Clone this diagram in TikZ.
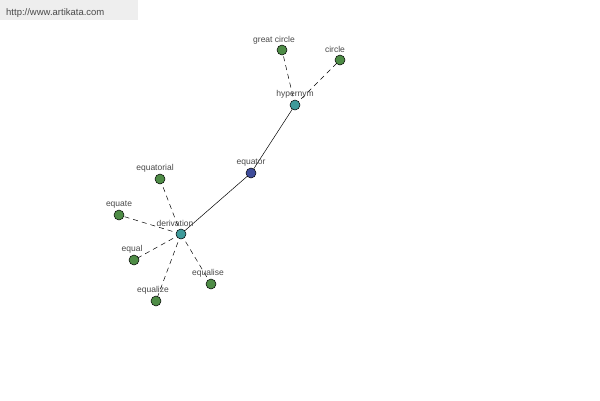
\documentclass[tikz,border=0pt]{standalone}
\usepackage{fontspec}
\setmainfont{Liberation Sans}
\definecolor{leaf}{HTML}{4E8C46}
\definecolor{mid}{HTML}{3E9A9A}
\definecolor{core}{HTML}{3F4C9A}
\definecolor{txt}{HTML}{4A4A4A}
\definecolor{hdr}{HTML}{EEEEEE}
\begin{document}
\begin{tikzpicture}[x=1pt,y=-1pt,
  dot/.style={circle,draw=black,line width=0.5pt,minimum size=10pt,inner sep=0pt},
  lf/.style={dot,fill=leaf},
  md/.style={dot,fill=mid},
  cr/.style={dot,fill=core},
  lbl/.style={font=\fontsize{8.5}{9}\selectfont,text=txt,anchor=base,inner sep=0pt},
  dsh/.style={draw=black,line width=0.5pt,dash pattern=on 5pt off 4pt},
  sld/.style={draw=black,line width=0.5pt}]
\useasboundingbox (0,0) rectangle (600,400);
\fill[white] (0,0) rectangle (600,400);
\node[fill=hdr,anchor=north west,minimum width=138pt,minimum height=20pt,inner sep=0pt] (hdr) at (0,0) {};
\node[font=\fontsize{9.5}{11}\selectfont,text=txt,anchor=base west,inner sep=0pt] (url) at (6,15) {http://www.artikata.com};
% coordinates
\coordinate (pEq) at (251,173);
\coordinate (pHy) at (295,105);
\coordinate (pGc) at (282,50);
\coordinate (pCi) at (340,60);
\coordinate (pDe) at (181,234);
\coordinate (pEql) at (160,179);
\coordinate (pEqt) at (119,215);
\coordinate (pEqu) at (134,260);
\coordinate (pEqz) at (156,301);
\coordinate (pEqs) at (211,284);
% edges
\draw[sld] (pDe) -- (pEq);
\draw[sld] (pEq) -- (pHy);
\draw[dsh] (pHy) -- (pGc);
\draw[dsh] (pHy) -- (pCi);
\draw[dsh] (pDe) -- (pEql);
\draw[dsh] (pDe) -- (pEqt);
\draw[dsh] (pDe) -- (pEqu);
\draw[dsh] (pDe) -- (pEqz);
\draw[dsh] (pDe) -- (pEqs);
% nodes
\node[cr] (eq) at (pEq) {};
\node[md] (hy) at (pHy) {};
\node[lf] (gc) at (pGc) {};
\node[lf] (ci) at (pCi) {};
\node[md] (de) at (pDe) {};
\node[lf] (eql) at (pEql) {};
\node[lf] (eqt) at (pEqt) {};
\node[lf] (equ) at (pEqu) {};
\node[lf] (eqz) at (pEqz) {};
\node[lf] (eqs) at (pEqs) {};
% labels
\node[lbl] (leq) at ([yshift=9pt]pEq) {equator};
\node[lbl] (lhy) at ([yshift=9pt]pHy) {hypernym};
\node[lbl] (lgc) at ([xshift=-8pt,yshift=8pt]pGc) {great circle};
\node[lbl] (lci) at ([xshift=-5pt,yshift=8pt]pCi) {circle};
\node[lbl] (lde) at ([xshift=-6pt,yshift=8pt]pDe) {derivation};
\node[lbl] (leql) at ([xshift=-5pt,yshift=9pt]pEql) {equatorial};
\node[lbl] (leqt) at ([yshift=9pt]pEqt) {equate};
\node[lbl] (lequ) at ([xshift=-2pt,yshift=9pt]pEqu) {equal};
\node[lbl] (leqz) at ([xshift=-3pt,yshift=9pt]pEqz) {equalize};
\node[lbl] (leqs) at ([xshift=-3pt,yshift=9pt]pEqs) {equalise};
\end{tikzpicture}
\end{document}
